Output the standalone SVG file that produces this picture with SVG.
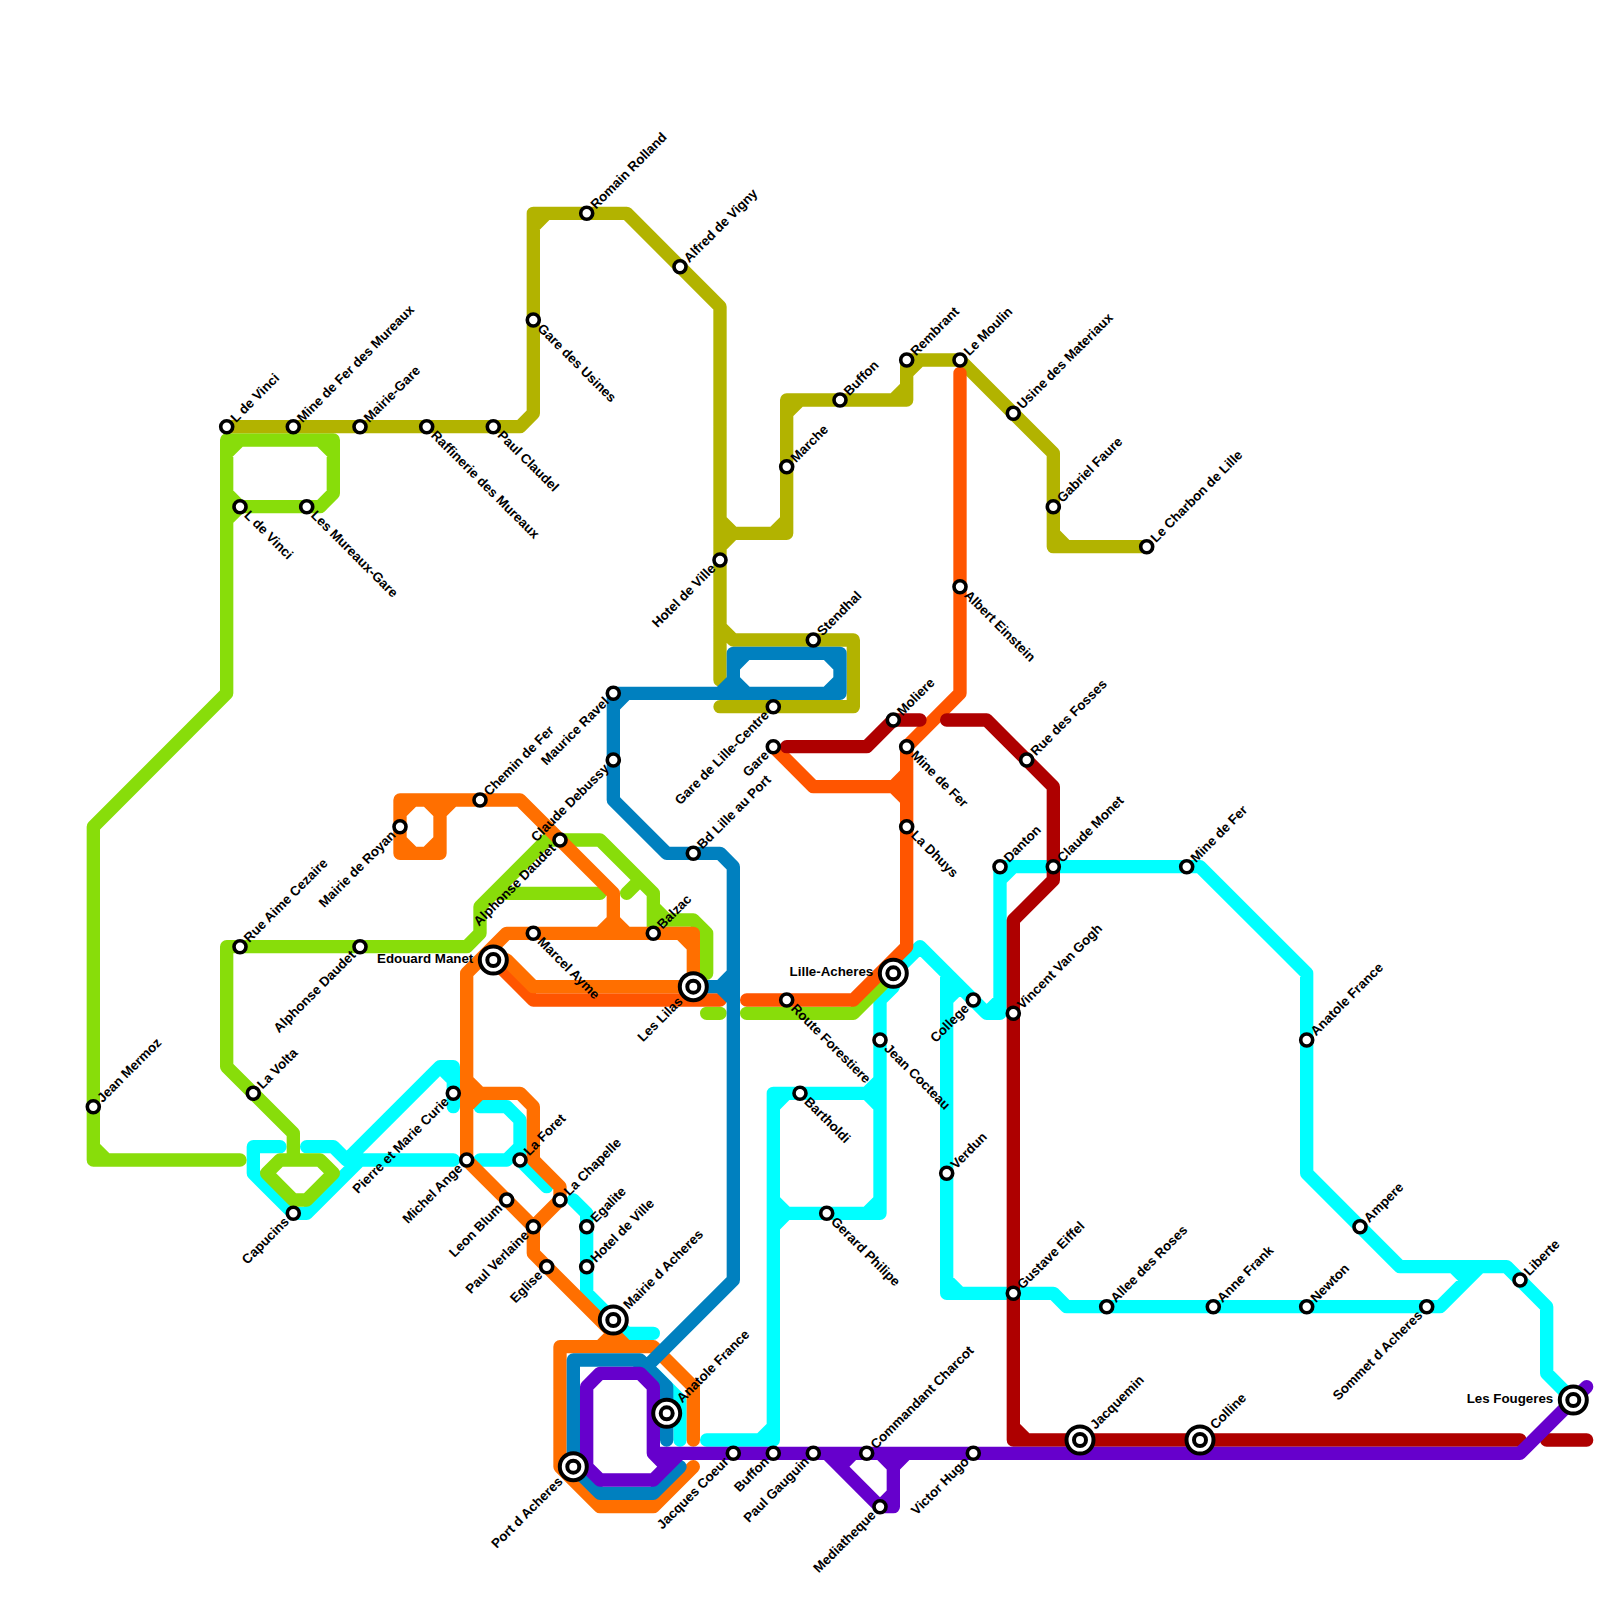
<svg xmlns="http://www.w3.org/2000/svg" width="1600" height="1600" viewBox="0 0 1600 1600">
<style>
.l{fill:none;stroke-width:1;stroke-linecap:round;stroke-linejoin:round}
.st{fill:#fff;stroke:#000;stroke-width:3.6}
.o{fill:#fff;stroke:#000;stroke-width:4}
.i{fill:#fff;stroke:#000;stroke-width:4}
text{font-family:"Liberation Sans",Arial,sans-serif;font-weight:700;font-size:13.33px;fill:#000}
.ne{transform:rotate(-45deg)}
.se{transform:rotate(45deg)}
.sw{transform:rotate(-45deg);text-anchor:end}
.w{text-anchor:end}
</style>
<rect width="1600" height="1600" fill="#fff"/>
<g id="connectors" transform="scale(13.33333)">
<path id="line-cyan" class="l" stroke="#00ffff" d="M21,86H19V88L22,91H23L27,87M23,86H25L26,87H34M26,87L33,80H34V83M33,80L34,81M36,83H38L39,84V87L41,89M39,86L38,87H36M43,90L44,91V97L47,100H49M49,103L51,105V108M53,108H58V82H65L66,81M58,83L59,82M57,108L58,107M65,82L66,83M67,73V74L66,75V91H58M65,91L66,90M58,90L59,91L58,92M67,73L69,71L74,76H75V65H90L98,73V88L105,95H113L116,98V103L118,105M74,76L75,75M75,66L76,65M71,73V97H79L80,98H108L111,95M71,75L72,74M71,96L72,97M109,95L110,96"/>
<path id="line-green" class="l" stroke="#88dd0a" d="M17,33H25V37L24,38H18L17,37M17,33V52L7,62V87H18M7,86L8,87M17,34L18,33M24,33L25,34M17,39L18,38M22,87V85L17,80V71H35L36,70V68L41,63H45L49,67V70M49,68L50,69H52L53,70V73M37,67H45M47,67L48,66M21,87H24L25,88L23,90H22L20,88ZM53,76H54M56,76H64L67,73"/>
<path id="line-olive" class="l" stroke="#b2b300" d="M17,32H39L40,31V16H47L54,23V51M40,17L41,16M54,39L55,40H59V30H68V27H72L79,34V41H86M54,41L55,40M58,40L59,39M59,31L60,30M67,30L68,29M68,28L69,27M79,40L80,41M54,47L55,48H64V53H54"/>
<path id="line-darkorange" class="l" stroke="#ff5500" d="M37,72L40,75H54M72,28V52L68,56V71L64,75H56M58,56L61,59H68M67,59L68,58M67,59L68,60"/>
<path id="line-orange" class="l" stroke="#ff6f00" d="M30,60H39L46,67V69L47,70M30,60V64H33V60M30,61L31,60M32,60L33,61M30,63L31,64M32,64L33,63M33,61L34,60M35,87V73L38,70H52V74M51,70L52,71M45,70L46,69M37,72H38L40,74H52M35,81L36,82H39L40,83V87L42,89V90L40,92M35,83L36,82M35,87L40,92V94L46,100M45,101L46,100L47,101M42,101H49L52,104V108M42,101V110L45,113H49L52,110"/>
<path id="line-darkred" class="l" stroke="#ae0000" d="M59,56H65L67,54H69M71,54H74L79,59V66L76,69V108H114M76,107L77,108M116,108H119"/>
<path id="line-blue" class="l" stroke="#0080bf" d="M46,52V60L50,64H54L55,65V96L48,103M46,53L47,52M46,52H63V49H55V52M54,52L55,51M55,50L56,49M55,51L56,52M62,49L63,50M62,52L63,51M52,74H54L55,73M54,74L55,75M43,102H48L50,104V108M48,102V103M43,102V110L45,112H49L51,110"/>
<path id="line-purple" class="l" stroke="#6600cc" d="M44,110V104L45,103H48L49,104V109L50,110M44,110L45,111H49L51,109M49,109H114L119,104M62,109L66,113H67V110L68,109M66,109L67,110M63,110L64,109M66,113L67,112"/>
</g>
<g id="stations">
<g id="n1" transform="translate(226.7 426.7)"><circle class="st" r="6"/><text class="ne" x="9" y="4">L de Vinci</text></g>
<g id="n2" transform="translate(293.3 426.7)"><circle class="st" r="6"/><text class="ne" x="9" y="4">Mine de Fer des Mureaux</text></g>
<g id="n3" transform="translate(360 426.7)"><circle class="st" r="6"/><text class="ne" x="9" y="4">Mairie-Gare</text></g>
<g id="n4" transform="translate(426.7 426.7)"><circle class="st" r="6"/><text class="se" x="9" y="4">Raffinerie des Mureaux</text></g>
<g id="n5" transform="translate(493.3 426.7)"><circle class="st" r="6"/><text class="se" x="9" y="4">Paul Claudel</text></g>
<g id="n6" transform="translate(533.3 320)"><circle class="st" r="6"/><text class="se" x="9" y="4">Gare des Usines</text></g>
<g id="n7" transform="translate(586.7 213.3)"><circle class="st" r="6"/><text class="ne" x="9" y="4">Romain Rolland</text></g>
<g id="n8" transform="translate(680 266.7)"><circle class="st" r="6"/><text class="ne" x="9" y="4">Alfred de Vigny</text></g>
<g id="n9" transform="translate(720 560)"><circle class="st" r="6"/><text class="sw" x="-9" y="4">Hotel de Ville</text></g>
<g id="n10" transform="translate(786.7 466.7)"><circle class="st" r="6"/><text class="ne" x="9" y="4">Marche</text></g>
<g id="n11" transform="translate(840 400)"><circle class="st" r="6"/><text class="ne" x="9" y="4">Buffon</text></g>
<g id="n12" transform="translate(906.7 360)"><circle class="st" r="6"/><text class="ne" x="9" y="4">Rembrant</text></g>
<g id="n13" transform="translate(960 360)"><circle class="st" r="6"/><text class="ne" x="9" y="4">Le Moulin</text></g>
<g id="n14" transform="translate(1013.3 413.3)"><circle class="st" r="6"/><text class="ne" x="9" y="4">Usine des Materiaux</text></g>
<g id="n15" transform="translate(1053.3 506.7)"><circle class="st" r="6"/><text class="ne" x="9" y="4">Gabriel Faure</text></g>
<g id="n16" transform="translate(1146.7 546.7)"><circle class="st" r="6"/><text class="ne" x="9" y="4">Le Charbon de Lille</text></g>
<g id="n17" transform="translate(813.3 640)"><circle class="st" r="6"/><text class="ne" x="9" y="4">Stendhal</text></g>
<g id="n18" transform="translate(773.3 706.7)"><circle class="st" r="6"/><text class="sw" x="-9" y="4">Gare de Lille-Centre</text></g>
<g id="n19" transform="translate(773.3 746.7)"><circle class="st" r="6"/><text class="sw" x="-9" y="4">Gare</text></g>
<g id="n20" transform="translate(893.3 720)"><circle class="st" r="6"/><text class="ne" x="9" y="4">Moliere</text></g>
<g id="n21" transform="translate(906.7 746.7)"><circle class="st" r="6"/><text class="se" x="9" y="4">Mine de Fer</text></g>
<g id="n22" transform="translate(906.7 826.7)"><circle class="st" r="6"/><text class="se" x="9" y="4">La Dhuys</text></g>
<g id="n23" transform="translate(960 586.7)"><circle class="st" r="6"/><text class="se" x="9" y="4">Albert Einstein</text></g>
<g id="n24" transform="translate(1026.7 760)"><circle class="st" r="6"/><text class="ne" x="9" y="4">Rue des Fosses</text></g>
<g id="n25" transform="translate(1053.3 866.7)"><circle class="st" r="6"/><text class="ne" x="9" y="4">Claude Monet</text></g>
<g id="n26" transform="translate(1000 866.7)"><circle class="st" r="6"/><text class="ne" x="9" y="4">Danton</text></g>
<g id="n27" transform="translate(1186.7 866.7)"><circle class="st" r="6"/><text class="ne" x="9" y="4">Mine de Fer</text></g>
<g id="n28" transform="translate(1306.7 1040)"><circle class="st" r="6"/><text class="ne" x="9" y="4">Anatole France</text></g>
<g id="n29" transform="translate(1360 1226.7)"><circle class="st" r="6"/><text class="ne" x="9" y="4">Ampere</text></g>
<g id="n30" transform="translate(1520 1280)"><circle class="st" r="6"/><text class="ne" x="9" y="4">Liberte</text></g>
<g id="n31" transform="translate(1426.7 1306.7)"><circle class="st" r="6"/><text class="sw" x="-9" y="4">Sommet d Acheres</text></g>
<g id="n32" transform="translate(1306.7 1306.7)"><circle class="st" r="6"/><text class="ne" x="9" y="4">Newton</text></g>
<g id="n33" transform="translate(1213.3 1306.7)"><circle class="st" r="6"/><text class="ne" x="9" y="4">Anne Frank</text></g>
<g id="n34" transform="translate(1106.7 1306.7)"><circle class="st" r="6"/><text class="ne" x="9" y="4">Allee des Roses</text></g>
<g id="n35" transform="translate(1013.3 1293.3)"><circle class="st" r="6"/><text class="ne" x="9" y="4">Gustave Eiffel</text></g>
<g id="n36" transform="translate(1013.3 1013.3)"><circle class="st" r="6"/><text class="ne" x="9" y="4">Vincent Van Gogh</text></g>
<g id="n37" transform="translate(973.3 1000)"><circle class="st" r="6"/><text class="sw" x="-9" y="4">College</text></g>
<g id="n38" transform="translate(946.7 1173.3)"><circle class="st" r="6"/><text class="ne" x="9" y="4">Verdun</text></g>
<g id="n39" transform="translate(880 1040)"><circle class="st" r="6"/><text class="se" x="9" y="4">Jean Cocteau</text></g>
<g id="n40" transform="translate(893.3 973.3)"><circle class="o" r="13.5"/><circle class="i" r="6"/><text class="w" x="-20" y="3">Lille-Acheres</text></g>
<g id="n41" transform="translate(786.7 1000)"><circle class="st" r="6"/><text class="se" x="9" y="4">Route Forestiere</text></g>
<g id="n42" transform="translate(800 1093.3)"><circle class="st" r="6"/><text class="se" x="9" y="4">Bartholdi</text></g>
<g id="n43" transform="translate(826.7 1213.3)"><circle class="st" r="6"/><text class="se" x="9" y="4">Gerard Philipe</text></g>
<g id="n44" transform="translate(1573.3 1400)"><circle class="o" r="13.5"/><circle class="i" r="6"/><text class="w" x="-20" y="3">Les Fougeres</text></g>
<g id="n45" transform="translate(1080 1440)"><circle class="o" r="13.5"/><circle class="i" r="6"/><text class="ne" x="18" y="4">Jacquemin</text></g>
<g id="n46" transform="translate(1200 1440)"><circle class="o" r="13.5"/><circle class="i" r="6"/><text class="ne" x="18" y="4">Colline</text></g>
<g id="n47" transform="translate(973.3 1453.3)"><circle class="st" r="6"/><text class="sw" x="-9" y="4">Victor Hugo</text></g>
<g id="n48" transform="translate(866.7 1453.3)"><circle class="st" r="6"/><text class="ne" x="9" y="4">Commandant Charcot</text></g>
<g id="n49" transform="translate(880 1506.7)"><circle class="st" r="6"/><text class="sw" x="-9" y="4">Mediatheque</text></g>
<g id="n50" transform="translate(813.3 1453.3)"><circle class="st" r="6"/><text class="sw" x="-9" y="4">Paul Gauguin</text></g>
<g id="n51" transform="translate(773.3 1453.3)"><circle class="st" r="6"/><text class="sw" x="-9" y="4">Buffon</text></g>
<g id="n52" transform="translate(733.3 1453.3)"><circle class="st" r="6"/><text class="sw" x="-9" y="4">Jacques Coeur</text></g>
<g id="n53" transform="translate(666.7 1413.3)"><circle class="o" r="13.5"/><circle class="i" r="6"/><text class="ne" x="18" y="4">Anatole France</text></g>
<g id="n54" transform="translate(573.3 1466.7)"><circle class="o" r="13.5"/><circle class="i" r="6"/><text class="sw" x="-18" y="4">Port d Acheres</text></g>
<g id="n55" transform="translate(613.3 1320)"><circle class="o" r="13.5"/><circle class="i" r="6"/><text class="ne" x="18" y="4">Mairie d Acheres</text></g>
<g id="n56" transform="translate(586.7 1266.7)"><circle class="st" r="6"/><text class="ne" x="9" y="4">Hotel de Ville</text></g>
<g id="n57" transform="translate(586.7 1226.7)"><circle class="st" r="6"/><text class="ne" x="9" y="4">Egalite</text></g>
<g id="n58" transform="translate(560 1200)"><circle class="st" r="6"/><text class="ne" x="9" y="4">La Chapelle</text></g>
<g id="n59" transform="translate(533.3 1226.7)"><circle class="st" r="6"/><text class="sw" x="-9" y="4">Paul Verlaine</text></g>
<g id="n60" transform="translate(546.7 1266.7)"><circle class="st" r="6"/><text class="sw" x="-9" y="4">Eglise</text></g>
<g id="n61" transform="translate(506.7 1200)"><circle class="st" r="6"/><text class="sw" x="-9" y="4">Leon Blum</text></g>
<g id="n62" transform="translate(520 1160)"><circle class="st" r="6"/><text class="ne" x="9" y="4">La Foret</text></g>
<g id="n63" transform="translate(466.7 1160)"><circle class="st" r="6"/><text class="sw" x="-9" y="4">Michel Ange</text></g>
<g id="n64" transform="translate(453.3 1093.3)"><circle class="st" r="6"/><text class="sw" x="-9" y="4">Pierre et Marie Curie</text></g>
<g id="n65" transform="translate(293.3 1213.3)"><circle class="st" r="6"/><text class="sw" x="-9" y="4">Capucins</text></g>
<g id="n66" transform="translate(253.3 1093.3)"><circle class="st" r="6"/><text class="ne" x="9" y="4">La Volta</text></g>
<g id="n67" transform="translate(93.3 1106.7)"><circle class="st" r="6"/><text class="ne" x="9" y="4">Jean Mermoz</text></g>
<g id="n68" transform="translate(240 946.7)"><circle class="st" r="6"/><text class="ne" x="9" y="4">Rue Aime Cezaire</text></g>
<g id="n69" transform="translate(360 946.7)"><circle class="st" r="6"/><text class="sw" x="-9" y="4">Alphonse Daudet</text></g>
<g id="n70" transform="translate(493.3 960)"><circle class="o" r="13.5"/><circle class="i" r="6"/><text class="w" x="-20" y="3">Edouard Manet</text></g>
<g id="n71" transform="translate(560 840)"><circle class="st" r="6"/><text class="sw" x="-9" y="4">Alphonse Daudet</text></g>
<g id="n72" transform="translate(480 800)"><circle class="st" r="6"/><text class="ne" x="9" y="4">Chemin de Fer</text></g>
<g id="n73" transform="translate(400 826.7)"><circle class="st" r="6"/><text class="sw" x="-9" y="4">Mairie de Royan</text></g>
<g id="n74" transform="translate(533.3 933.3)"><circle class="st" r="6"/><text class="se" x="9" y="4">Marcel Ayme</text></g>
<g id="n75" transform="translate(653.3 933.3)"><circle class="st" r="6"/><text class="ne" x="9" y="4">Balzac</text></g>
<g id="n76" transform="translate(693.3 853.3)"><circle class="st" r="6"/><text class="ne" x="9" y="4">Bd Lille au Port</text></g>
<g id="n77" transform="translate(693.3 986.7)"><circle class="o" r="13.5"/><circle class="i" r="6"/><text class="sw" x="-18" y="4">Les Lilas</text></g>
<g id="n78" transform="translate(613.3 693.3)"><circle class="st" r="6"/><text class="sw" x="-9" y="4">Maurice Ravel</text></g>
<g id="n79" transform="translate(613.3 760)"><circle class="st" r="6"/><text class="sw" x="-9" y="4">Claude Debussy</text></g>
<g id="n80" transform="translate(306.7 506.7)"><circle class="st" r="6"/><text class="se" x="9" y="4">Les Mureaux-Gare</text></g>
<g id="n81" transform="translate(240 506.7)"><circle class="st" r="6"/><text class="se" x="9" y="4">L de Vinci</text></g>
</g>
</svg>
